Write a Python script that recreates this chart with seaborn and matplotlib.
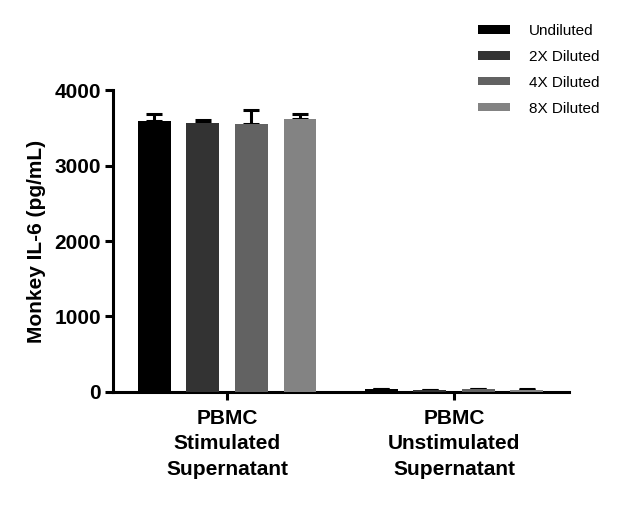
import numpy as np
import pandas as pd
import matplotlib
matplotlib.use("Agg")
import matplotlib.pyplot as plt
import seaborn as sns

# values
samples = ["PBMC\nStimulated\nSupernatant", "PBMC\nUnstimulated\nSupernatant"]
dilutions = ["Undiluted", "2X Diluted", "4X Diluted", "8X Diluted"]
stim_mean = [3590, 3560, 3550, 3615]
stim_sd = [100, 45, 185, 70]
unstim_mean = [35, 20, 35, 30]
unstim_sd = [10, 5, 12, 10]
colors = ["#000000", "#333333", "#626262", "#838383"]

df = pd.DataFrame({
    "sample": [samples[0]] * 4 + [samples[1]] * 4,
    "dilution": dilutions * 2,
    "conc": stim_mean + unstim_mean,
    "sd": stim_sd + unstim_sd,
})

sns.set_style("white")
plt.rcParams["font.family"] = ["Liberation Sans", "DejaVu Sans"]
plt.rcParams.update({"text.color": "black", "axes.labelcolor": "black",
                     "xtick.color": "black", "ytick.color": "black"})

fig = plt.figure(figsize=(6.4, 5.07), dpi=100)
ax = fig.add_axes([0.177, 0.227, 0.7125, 0.595])

sns.barplot(data=df, x="sample", y="conc", hue="dilution", hue_order=dilutions,
            order=samples, palette=colors, width=0.855, gap=0.32,
            errorbar=None, saturation=1, ax=ax, legend=True, zorder=3,
            linewidth=0)

# upward-only error bars (mean + SD), placed on the drawn bars
bars = [p for p in ax.patches if p.get_height() > 0]
for p in bars:
    cx = p.get_x() + p.get_width() / 2
    h = p.get_height()
    row = df[np.isclose(df["conc"], h)].iloc[0]
    ax.errorbar(cx, h, yerr=[[0], [row["sd"]]], fmt="none", ecolor="black",
                elinewidth=2.2, capsize=5.8, capthick=2.2, zorder=2)

ax.set_ylim(0, 4000)
ax.set_xlim(-0.502, 1.507)
ax.set_yticks([0, 1000, 2000, 3000, 4000])
ax.set_xlabel("")
ax.set_ylabel("Monkey IL-6 (pg/mL)", fontsize=15, fontweight="bold", labelpad=6)
for lab in ax.get_xticklabels() + ax.get_yticklabels():
    lab.set_fontweight("bold")
    lab.set_fontsize(15)
for lab in ax.get_xticklabels():
    lab.set_linespacing(1.45)

sns.despine(ax=ax)
for s in ["left", "bottom"]:
    ax.spines[s].set_linewidth(2.2)
    ax.spines[s].set_color("black")
ax.tick_params(axis="both", direction="out", length=6, width=2.2,
               color="black", left=True, bottom=True, pad=3)
ax.tick_params(axis="x", pad=6)

handles, labels = ax.get_legend_handles_labels()
ax.get_legend().remove()
fig.legend(handles, labels, loc="upper left", bbox_to_anchor=(0.725, 0.98),
           frameon=False, fontsize=11, handlelength=2.1, handleheight=0.46,
           labelspacing=0.78, handletextpad=1.25)

fig.savefig("out.png", dpi=100)
